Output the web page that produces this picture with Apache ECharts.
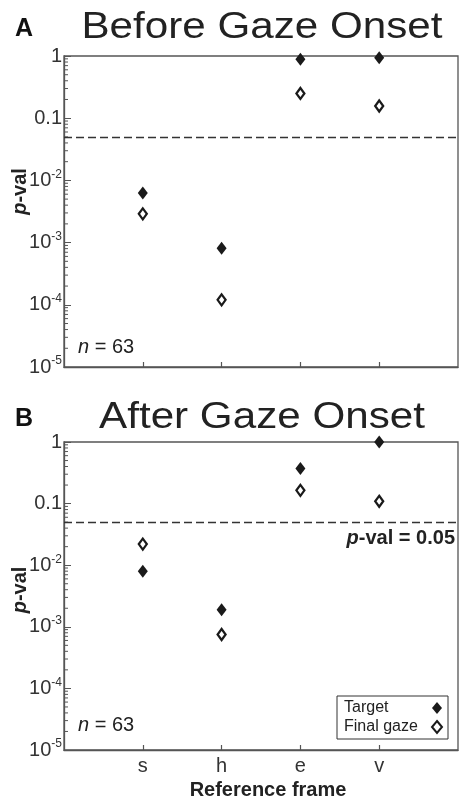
<!DOCTYPE html>
<html><head><meta charset="utf-8">
<script src="https://cdn.jsdelivr.net/npm/echarts@6/dist/echarts.min.js"></script>
<style>html,body{margin:0;padding:0;background:#fff}#c{width:459px;height:801px}</style>
</head><body><div id="c"></div>
<script>
const categories = ['s', 'h', 'e', 'v'];
const beforeTarget = [0.0063, 0.00081, 0.89, 0.94];
const beforeFinal = [0.0029, 0.00012, 0.25, 0.157];
const afterTarget = [0.008, 0.0019, 0.37, 1.0];
const afterFinal = [0.022, 0.00075, 0.164, 0.109];
const threshold = 0.05;
const panelTitles = ['Before Gaze Onset', 'After Gaze Onset'];
const panelLetters = ['A', 'B'];
const nText = '{i|n} = 63';
const yMin = 0.00001, yMax = 1;

const FONT = 'Liberation Sans';
const INK = '#222';
const AXC = '#555';

function pts(vals) { return vals.map((v, i) => [i + 1, v]); }
const minorVals = [];
for (let d = -5; d < 0; d++) for (let k = 2; k <= 9; k++) minorVals.push([0, +(k * Math.pow(10, d)).toPrecision(3)]);

function yLabel(v) {
  const e = Math.round(Math.log10(v));
  if (e === 0) return '1';
  if (e === -1) return '0.1';
  return '10{sup|' + e + '}';
}

const grids = [
  { left: 64, top: 56, width: 394, height: 311 },
  { left: 64, top: 442, width: 394, height: 310 }
];

const xAxes = grids.map((g, i) => ({
  gridIndex: i, type: 'value', min: 0, max: 5, interval: 1,
  axisLine: { show: true, lineStyle: { color: AXC, width: 1.3 } },
  axisTick: { show: true, inside: true, length: 5, customValues: [1, 2, 3, 4], lineStyle: { color: AXC, width: 1.2 } },
  axisLabel: { show: i === 1, customValues: [1, 2, 3, 4], margin: 6, fontFamily: FONT, fontSize: 20, color: '#333',
    formatter: v => categories[v - 1] || '' },
  splitLine: { show: false },
  name: i === 1 ? 'Reference frame' : '', nameLocation: 'middle', nameGap: 30,
  nameTextStyle: { fontFamily: FONT, fontSize: 20, fontWeight: 'bold', color: INK, padding: [0, 0, 0, 14] }
}));

const yAxes = grids.map((g, i) => ({
  gridIndex: i, type: 'log', logBase: 10, min: yMin, max: yMax,
  axisLine: { show: true, lineStyle: { color: AXC, width: 1.3 } },
  axisTick: { show: true, inside: true, length: 7, lineStyle: { color: AXC, width: 1 } },
  axisLabel: { margin: 2, fontFamily: FONT, fontSize: 20, color: '#333', formatter: yLabel,
    rich: { sup: { fontFamily: FONT, fontSize: 12, color: '#333', padding: [0, 0, 12, 0] } } },
  splitLine: { show: false }
}));

const series = [];
const panels = [[beforeTarget, beforeFinal], [afterTarget, afterFinal]];
panels.forEach((p, i) => {
  series.push({
    name: 'Target', type: 'scatter', xAxisIndex: i, yAxisIndex: i, clip: false,
    symbol: 'diamond', symbolSize: [10, 13],
    itemStyle: { color: '#1a1a1a', borderColor: '#1a1a1a', borderWidth: 0, opacity: 1 },
    data: pts(p[0]), z: 5,
    markLine: {
      silent: true, symbol: ['none', 'none'], animation: false,
      lineStyle: { type: [8, 4], color: '#333', width: 1.3 },
      label: i === 1 ? {
        show: true, position: 'insideEndBottom', distance: [3, 6], formatter: '{i|p}-val = 0.05',
        fontFamily: FONT, fontSize: 20, fontWeight: 'bold', color: INK,
        rich: { i: { fontFamily: FONT, fontSize: 20, fontWeight: 'bold', fontStyle: 'italic', color: INK } }
      } : { show: false },
      data: [{ yAxis: threshold }]
    }
  });
  series.push({
    name: 'Final gaze', type: 'scatter', xAxisIndex: i, yAxisIndex: i, clip: false,
    symbol: 'diamond', symbolSize: [8, 11],
    itemStyle: { color: '#fff', borderColor: '#1a1a1a', borderWidth: 2.3, opacity: 1 },
    data: pts(p[1]), z: 5
  });
  series.push({
    type: 'custom', xAxisIndex: i, yAxisIndex: i, silent: true, clip: false,
    data: minorVals, encode: { x: 0, y: 1 },
    renderItem: (params, api) => {
      const pt = api.coord([0, api.value(1)]);
      return { type: 'line', shape: { x1: pt[0], y1: pt[1], x2: pt[0] + 4, y2: pt[1] },
        style: { stroke: AXC, lineWidth: 1 } };
    }
  });
});

const graphic = [];
const titleY = [28, 418];
const letterY = [29, 419];
const pvalY = [191.5, 590];
const nY = [347, 725];
[0, 1].forEach(i => {
  graphic.push({ type: 'text', x: 262, y: titleY[i], scaleX: 1.14, originX: 0, originY: 0,
    style: { text: panelTitles[i], fontFamily: FONT, fontSize: 37, fill: INK, align: 'center', verticalAlign: 'middle' } });
  graphic.push({ type: 'text', x: 24, y: letterY[i],
    style: { text: panelLetters[i], fontFamily: FONT, fontSize: 25, fontWeight: 'bold', fill: '#111', align: 'center', verticalAlign: 'middle' } });
  graphic.push({ type: 'text', x: 20, y: pvalY[i], rotation: Math.PI / 2,
    style: { text: '{i|p}-val', fontFamily: FONT, fontSize: 20, fontWeight: 'bold', fill: INK, align: 'center', verticalAlign: 'middle',
      rich: { i: { fontFamily: FONT, fontSize: 20, fontWeight: 'bold', fontStyle: 'italic', fill: INK } } } });
  graphic.push({ type: 'text', x: 78, y: nY[i],
    style: { text: nText, fontFamily: FONT, fontSize: 20, fill: INK, align: 'left', verticalAlign: 'middle',
      rich: { i: { fontFamily: FONT, fontSize: 20, fontStyle: 'italic', fill: INK } } } });
});

const chart = echarts.init(document.getElementById('c'), null, { renderer: 'canvas' });
chart.setOption({
  animation: false,
  backgroundColor: '#fff',
  grid: grids.map(g => Object.assign({ show: true, borderColor: AXC, borderWidth: 1.3, backgroundColor: 'transparent' }, g)),
  xAxis: xAxes,
  yAxis: yAxes,
  legend: {
    data: ['Target', 'Final gaze'], orient: 'vertical', left: 337, top: 696, align: 'right',
    itemWidth: 10, itemHeight: 12, itemGap: 3,
    padding: [4, 5, 4, 7], borderColor: '#333', borderWidth: 1, backgroundColor: '#fff',
    formatter: name => '{t|' + name + '}',
    textStyle: { fontFamily: FONT, fontSize: 16, color: INK,
      rich: { t: { fontFamily: FONT, fontSize: 16, color: INK, width: 83, align: 'left' } } },
    selectedMode: false
  },
  series: series,
  graphic: graphic
});
</script>
</body></html>
